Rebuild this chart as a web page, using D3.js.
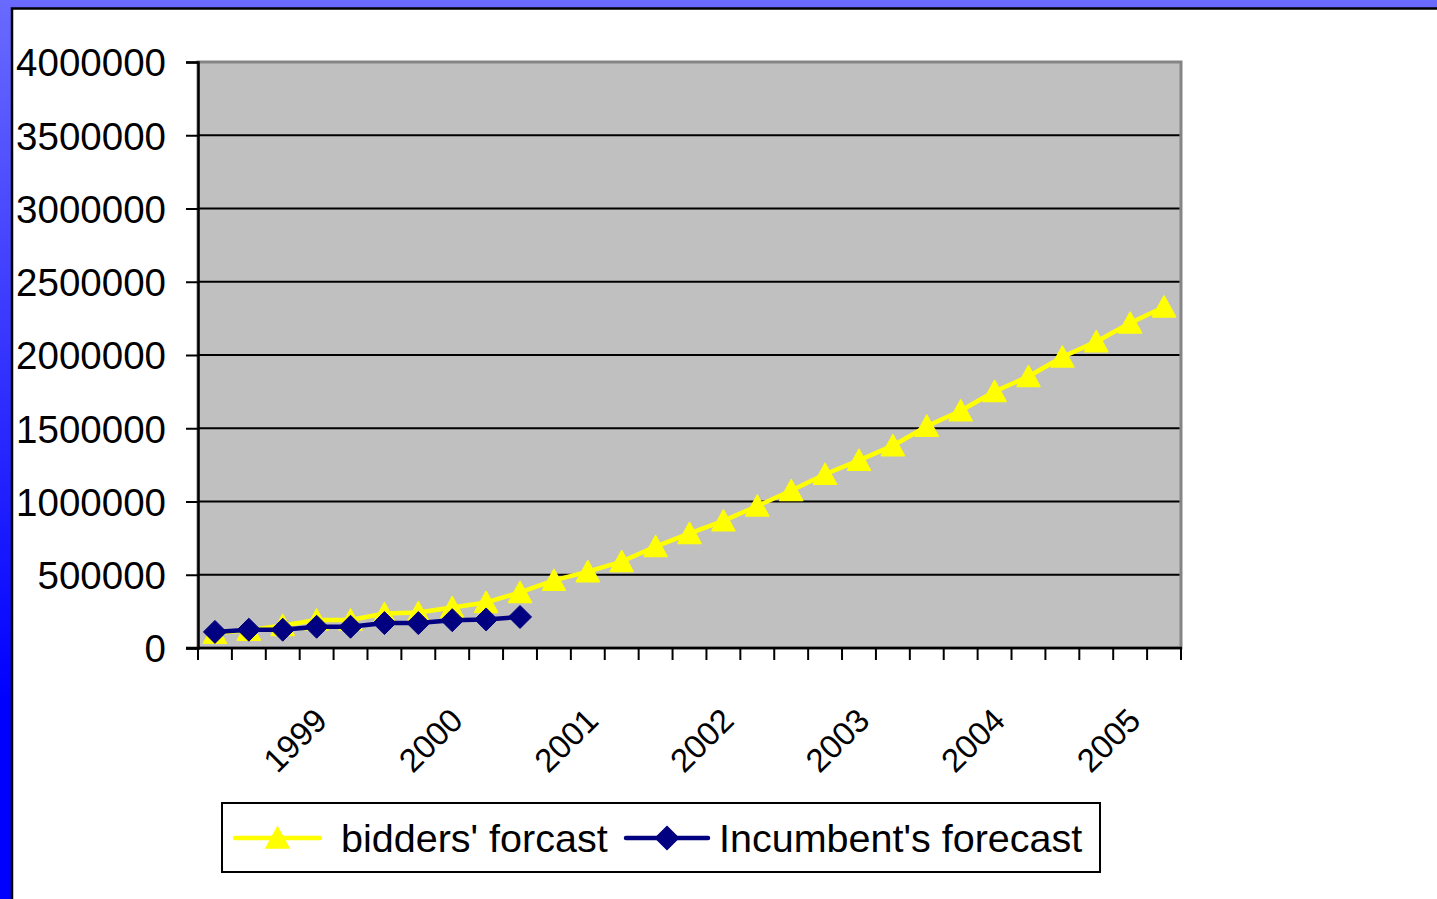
<!DOCTYPE html>
<html>
<head>
<meta charset="utf-8">
<script src="https://cdn.jsdelivr.net/npm/d3@7"></script>
<style>
  html, body { margin: 0; padding: 0; background: #fff; }
  svg { display: block; }
  text { font-family: "Liberation Sans", Arial, sans-serif; fill: #000; }
</style>
</head>
<body>
<svg id="chart" width="1437" height="899"></svg>
<script>
// ---- data ----
const periods = ["p1","p2","p3","p4","p5","p6","p7","p8","p9","p10",
                 "p11","p12","p13","p14","p15","p16","p17","p18","p19","p20",
                 "p21","p22","p23","p24","p25","p26","p27","p28","p29"];
const tickLabels = ["", "", "", "1999", "", "", "", "2000", "", "", "", "2001", "", "", "",
                    "2002", "", "", "", "2003", "", "", "", "2004", "", "", "", "2005", ""];
const biddersForecast = [100000, 122000, 154000, 191000, 191000, 235000, 242000, 276000, 311000, 379000,
                         462000, 521000, 590000, 692000, 782000, 868000, 969000, 1075000, 1186000, 1281000,
                         1381000, 1514000, 1619000, 1751000, 1853000, 1986000, 2091000, 2218000, 2328000];
const incumbentForecast = [110000, 125000, 125000, 145000, 145000, 170000, 170000, 190000, 195000, 212000];
const yTicks = [0, 500000, 1000000, 1500000, 2000000, 2500000, 3000000, 3500000, 4000000];
const seriesNames = ["bidders' forcast", "Incumbent's forecast"];

// ---- layout ----
const W = 1437, H = 899;
const plot = { x0: 198, x1: 1181, y0: 62, y1: 648 };
const svg = d3.select("#chart");

// background frame (slide gradient + white chart area)
const defs = svg.append("defs");
const grad = defs.append("linearGradient").attr("id", "bg").attr("x1", 0).attr("y1", 0).attr("x2", 0).attr("y2", 1);
grad.append("stop").attr("offset", "0%").attr("stop-color", "#6a6aff");
grad.append("stop").attr("offset", "78%").attr("stop-color", "#0000ff");
grad.append("stop").attr("offset", "100%").attr("stop-color", "#0000ff");
svg.append("rect").attr("width", W).attr("height", H).attr("fill", "url(#bg)");
svg.append("rect").attr("x", 12).attr("y", 8.5).attr("width", W + 20).attr("height", H + 20)
   .attr("fill", "#fff").attr("stroke", "#000").attr("stroke-width", 2.5);

// scales
const x = d3.scaleBand().domain(periods).range([plot.x0, plot.x1]).padding(0);
const y = d3.scaleLinear().domain([0, 4000000]).range([plot.y1, plot.y0]);
const cx = (i) => x(periods[i]) + x.bandwidth() / 2;

// plot area
svg.append("rect").attr("x", plot.x0).attr("y", plot.y0)
   .attr("width", plot.x1 - plot.x0).attr("height", plot.y1 - plot.y0)
   .attr("fill", "#c0c0c0").attr("stroke", "#858585").attr("stroke-width", 3);

// gridlines
svg.append("g").selectAll("line").data(yTicks.filter(d => d > 0 && d < 4000000)).join("line")
   .attr("x1", plot.x0).attr("x2", plot.x1 - 1.5)
   .attr("y1", d => y(d)).attr("y2", d => y(d))
   .attr("stroke", "#000").attr("stroke-width", 2);

// y axis
const yAxis = d3.axisLeft(y).tickValues(yTicks).tickSize(12).tickPadding(20).tickFormat(d3.format("d"));
const gy = svg.append("g").attr("transform", `translate(${plot.x0},0)`).call(yAxis);
gy.select(".domain").attr("stroke", "#000").attr("stroke-width", 2.5);
gy.selectAll(".tick line").attr("stroke", "#000").attr("stroke-width", 2);
gy.selectAll(".tick text").attr("font-size", 38.5).attr("font-family", "Liberation Sans, Arial, sans-serif")
  .attr("fill", "#000").attr("x", -32).attr("dy", "0.36em");

// x axis line and ticks (at category boundaries)
svg.append("line").attr("x1", plot.x0 - 12).attr("x2", plot.x1 + 1)
   .attr("y1", plot.y1).attr("y2", plot.y1).attr("stroke", "#000").attr("stroke-width", 2.5);
const boundaries = periods.map((p) => x(p)).concat([plot.x1]);
svg.append("g").selectAll("line").data(boundaries).join("line")
   .attr("x1", d => d).attr("x2", d => d)
   .attr("y1", plot.y1).attr("y2", plot.y1 + 12)
   .attr("stroke", "#000").attr("stroke-width", 2);

// x tick labels (rotated)
svg.append("g").selectAll("text").data(tickLabels.map((t, i) => ({ t, i })).filter(d => d.t !== "")).join("text")
   .attr("transform", d => `translate(${cx(d.i) + 4},${714}) rotate(-45)`)
   .attr("text-anchor", "end").attr("dy", "0.36em")
   .attr("font-size", 33).text(d => d.t);

// markers
const triPath = "M0,-11 L11.5,10 L-11.5,10 Z";
const diaPath = "M0,-11.5 L11.5,0 L0,11.5 L-11.5,0 Z";

// bidders series
const line = d3.line().x((d, i) => cx(i)).y(d => y(d));
svg.append("path").datum(biddersForecast).attr("d", line)
   .attr("fill", "none").attr("stroke", "#ffff00").attr("stroke-width", 4.5).attr("stroke-linejoin", "round");
svg.append("g").selectAll("path").data(biddersForecast).join("path")
   .attr("transform", (d, i) => `translate(${cx(i)},${y(d)})`)
   .attr("d", triPath).attr("fill", "#ffff00").attr("stroke", "#ffff00").attr("stroke-width", 1.5).attr("stroke-linejoin", "round");

// incumbent series
svg.append("path").datum(incumbentForecast).attr("d", line)
   .attr("fill", "none").attr("stroke", "#000080").attr("stroke-width", 4.5).attr("stroke-linejoin", "round");
svg.append("g").selectAll("path").data(incumbentForecast).join("path")
   .attr("transform", (d, i) => `translate(${cx(i)},${y(d)})`)
   .attr("d", diaPath).attr("fill", "#000080").attr("stroke", "#000080").attr("stroke-width", 1).attr("stroke-linejoin", "round");

// legend
const lg = svg.append("g");
lg.append("rect").attr("x", 222).attr("y", 803).attr("width", 878).attr("height", 69)
  .attr("fill", "#fff").attr("stroke", "#000").attr("stroke-width", 2);
const legendItems = [
  { name: seriesNames[0], color: "#ffff00", marker: triPath, lx0: 235, lx1: 320, tx: 341 },
  { name: seriesNames[1], color: "#000080", marker: diaPath, lx0: 626, lx1: 708, tx: 719 }
];
const ly = 838;
legendItems.forEach(it => {
  lg.append("line").attr("x1", it.lx0).attr("x2", it.lx1).attr("y1", ly).attr("y2", ly)
    .attr("stroke", it.color).attr("stroke-width", 4.5).attr("stroke-linecap", "round");
  lg.append("path").attr("transform", `translate(${(it.lx0 + it.lx1) / 2},${ly})`)
    .attr("d", it.marker).attr("fill", it.color).attr("stroke", it.color).attr("stroke-width", 1.5);
  lg.append("text").attr("x", it.tx).attr("y", ly).attr("dy", "0.35em")
    .attr("font-size", 39.5).text(it.name);
});
</script>
</body>
</html>
